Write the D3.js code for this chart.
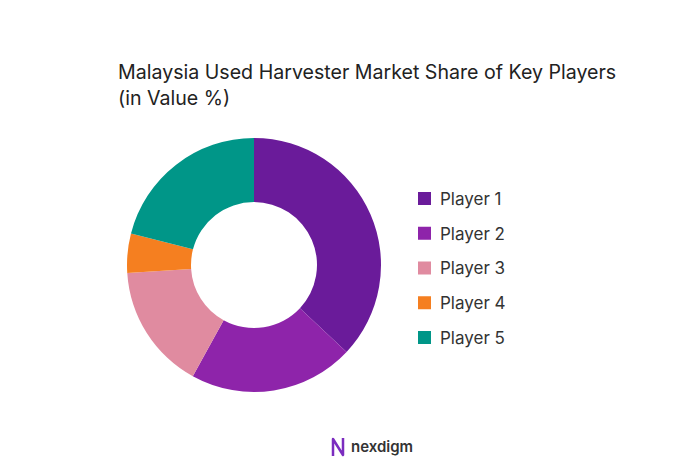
<!DOCTYPE html>
<html><head><meta charset="utf-8">
<script src="https://cdn.jsdelivr.net/npm/d3@7"></script>
<style>body{margin:0;background:#fff;font-family:Inter,"Noto Sans",sans-serif}</style>
</head><body>
<svg id="chart" width="679" height="470"></svg>
<script>
const players = ['Player 1', 'Player 2', 'Player 3', 'Player 4', 'Player 5'];
const shares = [37, 21, 16, 5, 21];
const colors = ['#6a1b9a', '#8e24aa', '#e08ba0', '#f57f20', '#009688'];

const svg = d3.select('#chart');

svg.append('text').attr('x', 118).attr('y', 79)
    .style('font-size', '19.6px').style('fill', '#222')
    .text('Malaysia Used Harvester Market Share of Key Players');
svg.append('text').attr('x', 118).attr('y', 105)
    .style('font-size', '19.6px').style('fill', '#222')
    .text('(in Value %)');

const pie = d3.pie().sort(null).value(d => d)(shares);
const arc = d3.arc().innerRadius(63).outerRadius(127);
const g = svg.append('g').attr('transform', 'translate(254,265)');
g.selectAll('path').data(pie).enter().append('path')
    .attr('d', arc)
    .attr('fill', (d, i) => colors[i]);

const y = d3.scalePoint().domain(players).range([199, 338]);
const leg = svg.selectAll('.leg').data(players).enter().append('g')
    .attr('transform', d => `translate(418,${y(d)})`);
leg.append('rect').attr('x', 0).attr('y', -7).attr('width', 13).attr('height', 13)
    .attr('fill', (d, i) => colors[i]);
leg.append('text').attr('x', 22).attr('dy', '0.35em')
    .style('font-size', '17px').style('fill', '#333').text(d => d);

// logo
const logo = svg.append('g').attr('transform', 'translate(333,447)');
logo.append('path').attr('d', 'M0,9 L0,-8 L10,8 L10,-9')
    .attr('fill', 'none').attr('stroke', '#7b2cbf').attr('stroke-width', 2.5)
    .attr('stroke-linejoin', 'round');
logo.append('text').attr('x', 18).attr('dy', '0.35em')
    .style('font-size', '15px').style('font-weight', 600).style('fill', '#333')
    .text('nexdigm');
</script>
</body></html>
